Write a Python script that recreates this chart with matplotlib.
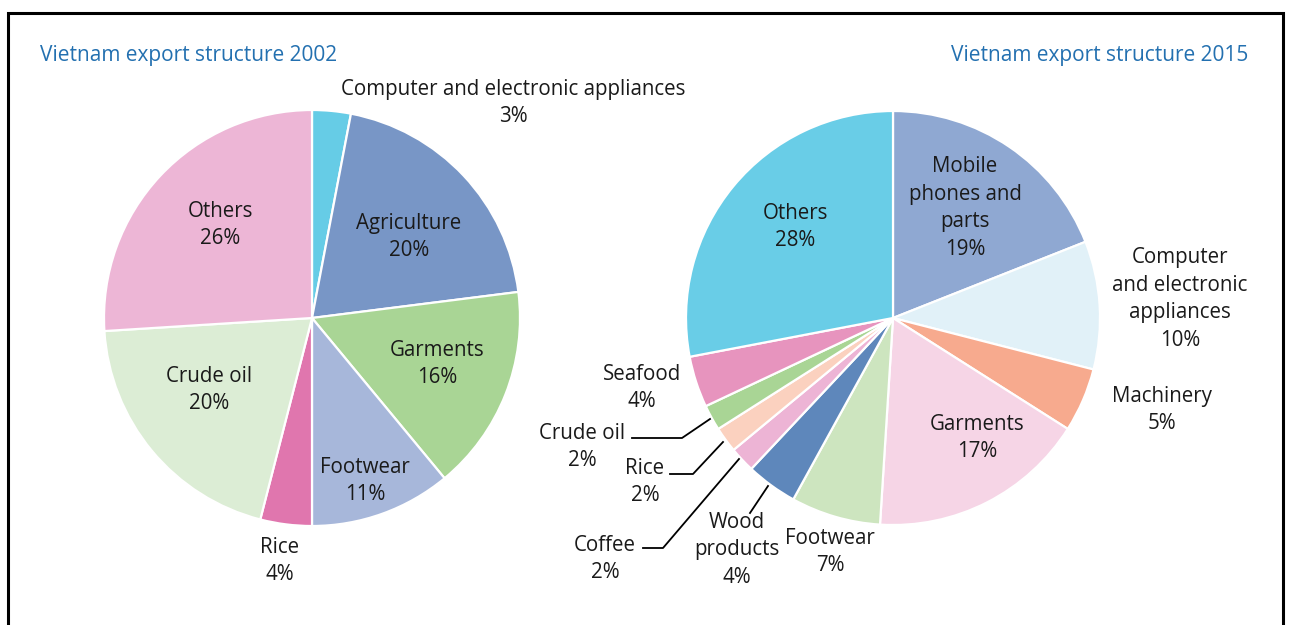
import matplotlib.pyplot as plt

plt.rcParams["font.family"] = ["Open Sans", "DejaVu Sans"]

# 2002 slices, clockwise from 12 o'clock
labels_2002 = ["Computer and electronic appliances", "Agriculture", "Garments",
               "Footwear", "Rice", "Crude oil", "Others"]
values_2002 = [3, 20, 16, 11, 4, 20, 26]
colors_2002 = ["#66CCE6", "#7896C6", "#A9D595", "#A7B7DA", "#E076AE", "#DCEDD5", "#EDB6D6"]

# 2015 slices, clockwise from 12 o'clock
labels_2015 = ["Mobile\nphones and\nparts", "Computer\nand electronic\nappliances", "Machinery",
               "Garments", "Footwear", "Wood\nproducts", "Coffee", "Rice", "Crude oil",
               "Seafood", "Others"]
values_2015 = [19, 10, 5, 17, 7, 4, 2, 2, 2, 4, 28]
colors_2015 = ["#8FA8D2", "#E1F1F8", "#F7AA8E", "#F6D5E6", "#CDE5BF", "#5E87BB",
               "#EDB4D5", "#FBD1BF", "#A9D595", "#E794BE", "#69CDE7"]

W, H = 1290, 625
fig = plt.figure(figsize=(W / 100, H / 100), dpi=100)
ax = fig.add_axes([0, 0, 1, 1])

wp = dict(edgecolor="white", linewidth=1.6)
ax.pie(values_2002, colors=colors_2002, startangle=90, counterclock=False,
       center=(312, H - 318), radius=208, wedgeprops=wp, frame=True)
ax.pie(values_2015, colors=colors_2015, startangle=90, counterclock=False,
       center=(893, H - 318), radius=207, wedgeprops=wp, frame=True)

ax.set_xlim(0, W)
ax.set_ylim(0, H)
ax.set_aspect("equal")
ax.axis("off")

# label positions (pixel coords from top-left), same order as the data
pos_2002 = [(513, 103), (409, 237), (437, 364), (365, 481), (280, 561), (209, 390), (220, 225)]
pos_2015 = [(965, 208), (1180, 299), (1162, 410), (977, 438), (830, 552), (737, 550),
            (605, 559), (645, 482), (582, 447), (642, 388), (795, 227)]

fs = 14.8
for lab, v, (x, y) in zip(labels_2002, values_2002, pos_2002):
    ax.text(x, H - y, f"{lab}\n{v}%", ha="center", va="center", fontsize=fs,
            color="#1a1a1a", linespacing=1.4)
for lab, v, (x, y) in zip(labels_2015, values_2015, pos_2015):
    ax.text(x, H - y, f"{lab}\n{v}%", ha="center", va="center", fontsize=fs,
            color="#1a1a1a", linespacing=1.4)

# leader lines for the small 2015 slices
leaders = [
    [(632, 438), (682, 438), (710, 419)],   # crude oil
    [(670, 474), (693, 474), (723, 442)],   # rice
    [(643, 548), (663, 548), (739, 459)],   # coffee
    [(750, 513), (768, 486)],               # wood products
]
for pts in leaders:
    xs = [p[0] for p in pts]
    ys = [H - p[1] for p in pts]
    ax.plot(xs, ys, color="black", linewidth=1.3)

# titles
title_color = "#2370B0"
ax.text(40, H - 55, "Vietnam export structure 2002", ha="left", va="center",
        fontsize=15, color=title_color)
ax.text(1248, H - 55, "Vietnam export structure 2015", ha="right", va="center",
        fontsize=15, color=title_color)

# frame around the figure (open at the bottom)
ax.plot([8, 8, 1283, 1283], [0, H - 13, H - 13, 0], color="black", linewidth=2.2,
        solid_joinstyle="miter", clip_on=False)

fig.savefig("out.png", dpi=100)
